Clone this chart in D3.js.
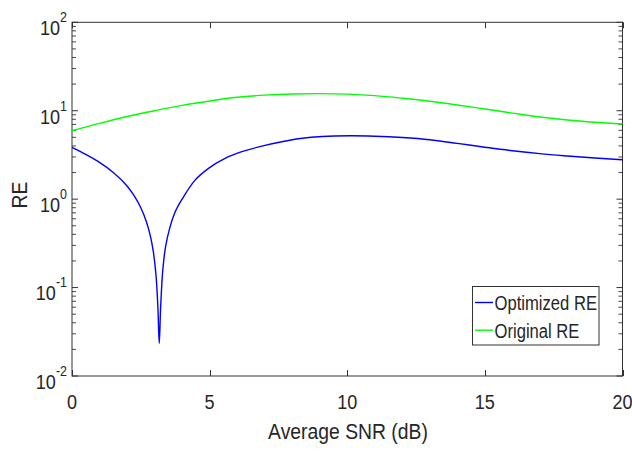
<!DOCTYPE html>
<html>
<head>
<meta charset="utf-8">
<script src="https://cdn.jsdelivr.net/npm/d3@7"></script>
<style>
  html, body { margin: 0; padding: 0; background: #fff; }
  svg { display: block; }
  text { font-family: "Liberation Sans", Arial, Helvetica, sans-serif; fill: #262626; }
</style>
</head>
<body>
<svg id="chart" width="632" height="451"></svg>
<script>
// Optimized RE versus average SNR
const snrOptimized = [0, 0.5, 1, 1.5, 2, 2.25, 2.5, 2.7, 2.85, 2.95, 3.05, 3.12, 3.17,
  3.22, 3.3, 3.4, 3.55, 3.75, 4, 4.47, 4.96, 5.56, 6.17, 6.9, 7.62, 8.3, 9.1, 10.1,
  11, 12, 13, 14, 15, 16, 17, 18, 19, 20];
const reOptimized = [3.85, 3.2, 2.6, 2.0, 1.41, 1.1, 0.80, 0.56, 0.38, 0.26, 0.14, 0.06, 0.0234,
  0.06, 0.16, 0.29, 0.47, 0.72, 1.0, 1.64, 2.23, 2.89, 3.44, 3.98, 4.46, 4.85, 5.12, 5.21,
  5.15, 4.98, 4.7, 4.27, 3.87, 3.53, 3.27, 3.08, 2.92, 2.79];

// Original RE versus average SNR
const snrOriginal = [0, 1, 2, 3, 4, 5, 6, 7, 8, 9, 10, 11, 12, 13, 14, 15, 16, 17, 18, 19, 20];
const reOriginal = [5.94, 7.2, 8.6, 10.0, 11.5, 12.9, 14.2, 15.0, 15.45, 15.6, 15.4, 14.8,
  13.85, 12.8, 11.6, 10.45, 9.4, 8.5, 7.85, 7.4, 7.07];

// Axis ticks
const xTicks = [0, 5, 10, 15, 20];
const yExponents = [-2, -1, 0, 1, 2];

const seriesNames = ["Optimized RE", "Original RE"];
const seriesColors = ["#0000ff", "#00ff00"];

const svg = d3.select("#chart");
const plotLeft = 72, plotRight = 622.5, plotTop = 22.3, plotBottom = 376;
const squeeze = 0.86;

const x = d3.scaleLinear().domain([0, 20]).range([plotLeft, plotRight]);
const y = d3.scaleLog().domain([1e-2, 1e2]).range([plotBottom, plotTop]);

const axisColor = "#333";

// frame
svg.append("rect")
  .attr("x", plotLeft).attr("y", plotTop)
  .attr("width", plotRight - plotLeft).attr("height", plotBottom - plotTop)
  .attr("fill", "none").attr("stroke", axisColor).attr("stroke-width", 1);

// x ticks (bottom and top, pointing inward)
const xt = svg.append("g");
xTicks.forEach(v => {
  const px = Math.round(x(v)) + 0.5;
  xt.append("line").attr("x1", px).attr("x2", px).attr("y1", plotBottom).attr("y2", plotBottom - 6)
    .attr("stroke", axisColor);
  xt.append("line").attr("x1", px).attr("x2", px).attr("y1", plotTop).attr("y2", plotTop + 6)
    .attr("stroke", axisColor);
  xt.append("text")
    .attr("transform", `translate(${x(v)},408.5) scale(${squeeze},1)`)
    .attr("text-anchor", "middle")
    .attr("font-size", 21)
    .text(v);
});

// y ticks, major and minor, on both sides
const yt = svg.append("g");
yExponents.forEach((e, i) => {
  const base = Math.pow(10, e);
  const py = y(base);
  [[plotLeft, plotLeft + 6], [plotRight, plotRight - 6]].forEach(([a, b]) => {
    yt.append("line").attr("x1", a).attr("x2", b).attr("y1", py).attr("y2", py).attr("stroke", axisColor);
  });
  if (i < yExponents.length - 1) {
    for (let m = 2; m <= 9; m++) {
      const pm = y(base * m);
      [[plotLeft, plotLeft + 4], [plotRight, plotRight - 4]].forEach(([a, b]) => {
        yt.append("line").attr("x1", a).attr("x2", b).attr("y1", pm).attr("y2", pm)
          .attr("stroke", axisColor).attr("stroke-width", 0.9);
      });
    }
  }
  const t = yt.append("text")
    .attr("transform", `translate(67,${py + 12.8}) scale(${squeeze},1)`)
    .attr("text-anchor", "end")
    .attr("font-size", 21);
  t.append("tspan").text("10");
  t.append("tspan").attr("dy", -13).attr("font-size", 14.5).text(e);
});

// axis titles
svg.append("text")
  .attr("transform", `translate(348,438.5) scale(${squeeze},1)`)
  .attr("text-anchor", "middle")
  .attr("font-size", 22.5)
  .text("Average SNR (dB)");

svg.append("text")
  .attr("transform", `translate(27,195) rotate(-90) scale(${squeeze},1)`)
  .attr("text-anchor", "middle")
  .attr("font-size", 22.5)
  .text("RE");

// curves
const line = d3.line()
  .x(d => x(d[0]))
  .y(d => y(d[1]))
  .curve(d3.curveCatmullRom.alpha(0.5));

const series = [
  d3.zip(snrOptimized, reOptimized),
  d3.zip(snrOriginal, reOriginal)
];

const plot = svg.append("g");
[1, 0].forEach(i => {
  plot.append("path")
    .datum(series[i])
    .attr("d", line)
    .attr("fill", "none")
    .attr("stroke", seriesColors[i])
    .attr("stroke-width", 1.4)
    .attr("stroke-linejoin", "round");
});

// legend
const lg = svg.append("g");
lg.append("rect")
  .attr("x", 472.5).attr("y", 286.5).attr("width", 126.5).attr("height", 58.5)
  .attr("fill", "#fff").attr("stroke", axisColor).attr("stroke-width", 1);
seriesNames.forEach((name, i) => {
  const ly = 302.5 + i * 27.7;
  lg.append("line").attr("x1", 475).attr("x2", 493).attr("y1", ly).attr("y2", ly)
    .attr("stroke", seriesColors[i]).attr("stroke-width", 1.4);
  lg.append("text")
    .attr("transform", `translate(494.5,${ly + 7.5}) scale(0.84,1)`)
    .attr("font-size", 19.8)
    .text(name);
});
</script>
</body>
</html>
